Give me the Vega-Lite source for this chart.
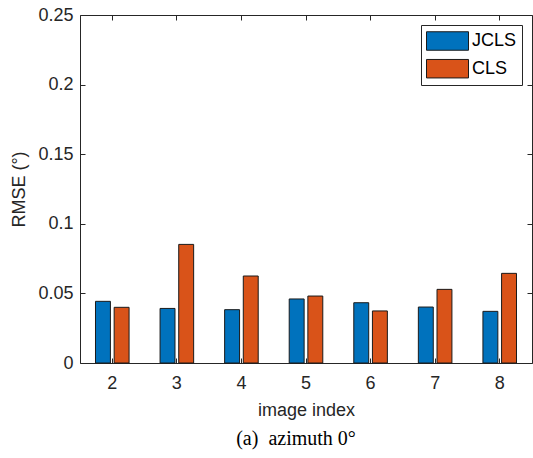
{
  "$schema": "https://vega.github.io/schema/vega-lite/v6.json",
  "width": 452,
  "height": 348,
  "autosize": {"type": "none"},
  "padding": {"left": 80, "top": 15, "right": 1, "bottom": 95},
  "background": "white",
  "config": {
    "view": {"stroke": "#262626", "strokeWidth": 1},
    "font": "Liberation Sans",
    "axis": {
      "grid": false,
      "domainColor": "#262626",
      "domainWidth": 1,
      "tickColor": "#262626",
      "tickWidth": 1,
      "tickSize": -5,
      "labelColor": "#262626",
      "titleColor": "#262626",
      "labelFont": "Liberation Sans",
      "titleFont": "Liberation Sans",
      "labelFontSize": 18,
      "titleFontSize": 18,
      "titleFontWeight": "normal"
    },
    "legend": {
      "labelFont": "Liberation Sans",
      "labelFontSize": 18,
      "labelColor": "#000000"
    },
    "title": {"font": "Liberation Serif", "fontSize": 20, "fontWeight": "normal", "color": "#000000"}
  },
  "title": {"text": "(a)\u2002azimuth 0°", "orient": "bottom", "anchor": "middle", "offset": 10, "dx": -10},
  "data": {
    "values": [
      {"image": 2, "method": "JCLS", "rmse": 0.0443},
      {"image": 2, "method": "CLS", "rmse": 0.0400},
      {"image": 3, "method": "JCLS", "rmse": 0.0392},
      {"image": 3, "method": "CLS", "rmse": 0.0852},
      {"image": 4, "method": "JCLS", "rmse": 0.0383},
      {"image": 4, "method": "CLS", "rmse": 0.0625},
      {"image": 5, "method": "JCLS", "rmse": 0.0460},
      {"image": 5, "method": "CLS", "rmse": 0.0481},
      {"image": 6, "method": "JCLS", "rmse": 0.0433},
      {"image": 6, "method": "CLS", "rmse": 0.0374},
      {"image": 7, "method": "JCLS", "rmse": 0.0402},
      {"image": 7, "method": "CLS", "rmse": 0.0529},
      {"image": 8, "method": "JCLS", "rmse": 0.0371},
      {"image": 8, "method": "CLS", "rmse": 0.0644}
    ]
  },
  "layer": [
    {
      "mark": {"type": "bar", "stroke": "#1a1a1a", "strokeWidth": 1},
      "encoding": {
        "x": {
          "field": "image", "type": "ordinal",
          "scale": {"paddingInner": 0.48, "paddingOuter": 0.24},
          "axis": {"title": "image index", "labelAngle": 0, "labelPadding": 16, "titlePadding": 9, "domain": false}
        },
        "xOffset": {
          "field": "method", "type": "nominal", "sort": ["JCLS", "CLS"],
          "scale": {"paddingInner": 0.2, "paddingOuter": 0}
        },
        "y": {
          "field": "rmse", "type": "quantitative",
          "scale": {"domain": [0, 0.25], "nice": false},
          "axis": {"title": "RMSE (°)", "values": [0, 0.05, 0.1, 0.15, 0.2, 0.25], "labelExpr": "datum.value + ''", "labelPadding": 12, "titlePadding": 9, "domain": false}
        },
        "color": {
          "field": "method", "type": "nominal",
          "scale": {"domain": ["JCLS", "CLS"], "range": ["#0072BD", "#D95319"]},
          "legend": {
            "title": null,
            "orient": "none",
            "legendX": 341,
            "legendY": 10,
            "symbolType": "M-1,-0.88H3V0.88H-1Z",
            "symbolSize": 441,
            "symbolStrokeColor": "#1a1a1a",
            "symbolStrokeWidth": 1,
            "symbolOpacity": 1,
            "strokeColor": "#262626",
            "fillColor": "white",
            "padding": 5,
            "rowPadding": 3.7,
            "labelOffset": 24,
            "labelExpr": "datum.label + '  '"
          }
        }
      }
    },
    {
      "mark": {"type": "bar", "opacity": 0},
      "encoding": {
        "x": {
          "field": "image", "type": "ordinal",
          "axis": {"orient": "top", "labels": false, "title": null, "domain": false}
        },
        "xOffset": {"field": "method", "type": "nominal", "sort": ["JCLS", "CLS"]},
        "y": {
          "field": "rmse", "type": "quantitative",
          "axis": {"orient": "right", "labels": false, "title": null, "domain": false, "values": [0, 0.05, 0.1, 0.15, 0.2, 0.25]}
        }
      }
    }
  ],
  "resolve": {"axis": {"x": "independent", "y": "independent"}}
}
